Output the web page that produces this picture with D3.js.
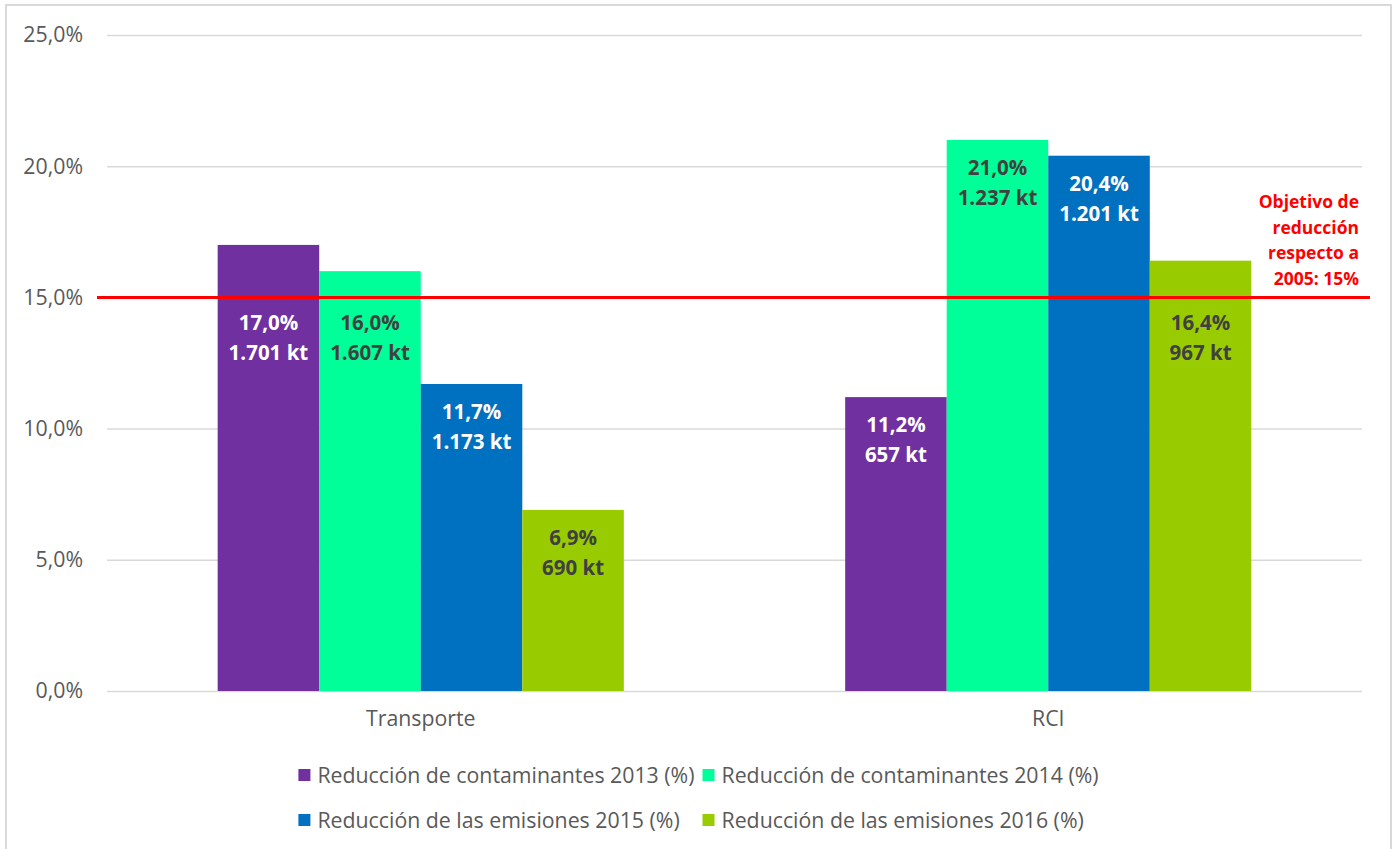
<!DOCTYPE html>
<html>
<head>
<meta charset="utf-8">
<script src="https://cdn.jsdelivr.net/npm/d3@7"></script>
<style>
  html, body { margin: 0; padding: 0; background: #fff; }
  svg text { font-family: "Open Sans", "DejaVu Sans", sans-serif; }
</style>
</head>
<body>
<svg id="chart" width="1394" height="849"></svg>
<script>
// Categories and series
const categories = ["Transporte", "RCI"];
const seriesNames = [
  "Reducción de contaminantes 2013 (%)",
  "Reducción de contaminantes 2014 (%)",
  "Reducción de las emisiones 2015 (%)",
  "Reducción de las emisiones 2016 (%)"
];
const seriesColors = ["#7030a0", "#00ff99", "#0070c0", "#99cc00"];
const labelColors = ["#ffffff", "#404040", "#ffffff", "#404040"];

// Reduction (%) per category, one value per series
const transportePct = [17.0, 16.0, 11.7, 6.9];
const rciPct = [11.2, 21.0, 20.4, 16.4];
// Reduced emissions (kt) per category, one value per series
const transporteKt = [1701, 1607, 1173, 690];
const rciKt = [657, 1237, 1201, 967];

const yTicks = [0, 5, 10, 15, 20, 25];
const targetValue = 15;
const targetLabel = ["Objetivo de", "reducción", "respecto a", "2005: 15%"];

const pctByCat = { "Transporte": transportePct, "RCI": rciPct };
const ktByCat = { "Transporte": transporteKt, "RCI": rciKt };

const locale = d3.formatLocale({ decimal: ",", thousands: ".", grouping: [3], currency: ["", "€"] });
const fmtPct = locale.format(".1f");
const fmtKt = locale.format(",d");

const svg = d3.select("#chart");
const W = 1394, H = 849;
const margin = { left: 107, right: 32, top: 35, bottom: 158 };
const plotL = margin.left, plotR = W - margin.right;
const plotT = margin.top, plotB = H - margin.bottom;
const textSize = 21.3;

// Chart frame
svg.append("rect")
  .attr("x", 6).attr("y", 5).attr("width", 1385).attr("height", 860)
  .attr("fill", "#fff").attr("stroke", "#d9d9d9").attr("stroke-width", 2);

const y = d3.scaleLinear().domain([0, 25]).range([plotB, plotT]);
const x0 = d3.scaleBand().domain(categories).range([plotL, plotR]).paddingInner(0).paddingOuter(0);
const x1 = d3.scaleBand().domain(d3.range(seriesNames.length)).range([0, x0.bandwidth()])
  .paddingInner(0).paddingOuter(1.09);

// Gridlines
svg.append("g").selectAll("line").data(yTicks).join("line")
  .attr("x1", plotL).attr("x2", plotR)
  .attr("y1", d => y(d) + 0.5).attr("y2", d => y(d) + 0.5)
  .attr("stroke", "#d9d9d9").attr("stroke-width", 1.5);

// Y axis labels
const yAxis = d3.axisLeft(y).tickValues(yTicks).tickSize(0).tickPadding(24)
  .tickFormat(d => fmtPct(d) + "%");
const gy = svg.append("g").attr("transform", `translate(${plotL},0)`).call(yAxis);
gy.select(".domain").remove();
gy.selectAll("text").attr("font-size", textSize).attr("fill", "#595959")
  .attr("font-family", "'Open Sans', sans-serif");

// X axis labels
const xAxis = d3.axisBottom(x0).tickSize(0).tickPadding(20);
const gx = svg.append("g").attr("transform", `translate(0,${plotB})`).call(xAxis);
gx.select(".domain").remove();
gx.selectAll("text").attr("font-size", textSize).attr("fill", "#595959")
  .attr("font-family", "'Open Sans', sans-serif");

// Bars
const rows = [];
categories.forEach(c => {
  pctByCat[c].forEach((v, i) => rows.push({ cat: c, i, v, kt: ktByCat[c][i] }));
});

svg.append("g").selectAll("rect").data(rows).join("rect")
  .attr("x", d => x0(d.cat) + x1(d.i))
  .attr("y", d => y(d.v))
  .attr("width", x1.bandwidth())
  .attr("height", d => y(0) - y(d.v))
  .attr("fill", d => seriesColors[d.i]);

// Target line
const yT = y(targetValue);
svg.append("line")
  .attr("x1", plotL - 10).attr("x2", plotR + 8)
  .attr("y1", yT).attr("y2", yT)
  .attr("stroke", "#ff0000").attr("stroke-width", 3);

// Data labels: placed near the bar top, moved below the target line if they would cross it
const lineGap = 30;
const labels = svg.append("g");
rows.forEach(d => {
  let c1 = y(d.v) + 28;
  const blockTop = c1 - 14, blockBot = c1 + lineGap + 14;
  if (blockTop < yT + 4 && blockBot > yT - 4) c1 = yT + 25;
  const cx = x0(d.cat) + x1(d.i) + x1.bandwidth() / 2;
  const t = labels.append("text")
    .attr("text-anchor", "middle")
    .attr("font-size", 20.5).attr("font-weight", "bold")
    .attr("fill", labelColors[d.i]);
  t.append("tspan").attr("x", cx).attr("y", c1).attr("dy", "0.36em").text(fmtPct(d.v) + "%");
  t.append("tspan").attr("x", cx).attr("y", c1 + lineGap).attr("dy", "0.36em").text(fmtKt(d.kt) + " kt");
});

// Target label
const tl = svg.append("text").attr("text-anchor", "end")
  .attr("font-size", 17.5).attr("font-weight", "bold").attr("fill", "#ff0000");
targetLabel.forEach((s, k) => {
  tl.append("tspan").attr("x", plotR - 3)
    .attr("y", yT - 19 - (targetLabel.length - 1 - k) * 25.5)
    .attr("dy", "0.36em").text(s);
});

// Legend: two rows, two aligned columns, centred on the chart
const legend = svg.append("g");
const legendRows = [[0, 1], [2, 3]];
const legendY = [775, 820];
const sw = 12, swGap = 7, colGap = 8;
// measure texts
const tmp = svg.append("g");
const widths = seriesNames.map(n => {
  const t = tmp.append("text").attr("font-size", textSize).text(n);
  return t.node().getComputedTextLength();
});
tmp.remove();
const colW = [Math.max(widths[0], widths[2]), Math.max(widths[1], widths[3])];
const totalW = sw + swGap + colW[0] + colGap + sw + swGap + colW[1];
const legStart = (6 + 1391) / 2 - totalW / 2;
const colX = [legStart, legStart + sw + swGap + colW[0] + colGap];
legendRows.forEach((r, ri) => {
  r.forEach((si, ci) => {
    const g = legend.append("g").attr("transform", `translate(${colX[ci]},${legendY[ri]})`);
    g.append("rect").attr("x", 0).attr("y", -sw / 2).attr("width", sw).attr("height", sw)
      .attr("fill", seriesColors[si]);
    g.append("text").attr("x", sw + swGap).attr("y", 0).attr("dy", "0.36em")
      .attr("font-size", textSize).attr("fill", "#595959").text(seriesNames[si]);
  });
});
</script>
</body>
</html>
